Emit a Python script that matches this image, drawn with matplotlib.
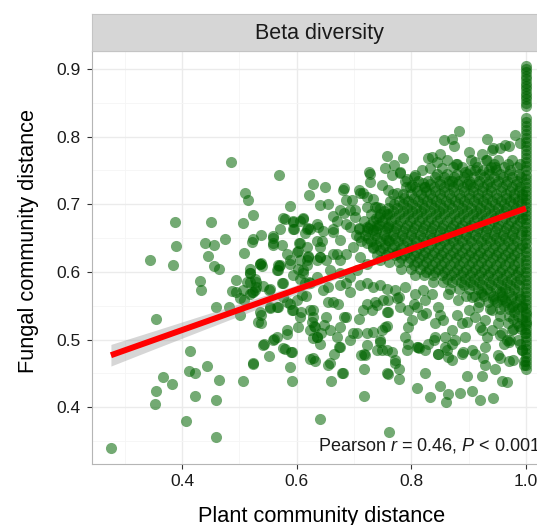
import numpy as np
import matplotlib
matplotlib.use('Agg')
import matplotlib.pyplot as plt

plt.rcParams['font.family'] = ['Liberation Sans', 'DejaVu Sans']
plt.rcParams['mathtext.fontset'] = 'custom'
plt.rcParams['mathtext.rm'] = 'Liberation Sans'
plt.rcParams['mathtext.it'] = 'Liberation Sans:italic'

# (plant distance, fungal distance) pairs, grouped by region
sparse_left = [
    (0.485, 0.762), (0.570, 0.744), (0.629, 0.730), (0.510, 0.717), (0.516, 0.707), (0.622, 0.713),
    (0.588, 0.697), (0.524, 0.684), (0.507, 0.673), (0.450, 0.674), (0.388, 0.674), (0.390, 0.638),
    (0.440, 0.643), (0.455, 0.640), (0.475, 0.649), (0.523, 0.644), (0.538, 0.654), (0.559, 0.650),
    (0.558, 0.643), (0.575, 0.640), (0.509, 0.628), (0.446, 0.624), (0.344, 0.617), (0.384, 0.610),
    (0.579, 0.678), (0.593, 0.674), (0.612, 0.678), (0.596, 0.663), (0.614, 0.658), (0.620, 0.665),
    (0.603, 0.631), (0.588, 0.617), (0.619, 0.623), (0.604, 0.643), (0.635, 0.646), (0.538, 0.613),
    (0.568, 0.610), (0.455, 0.608), (0.519, 0.604), (0.465, 0.605), (0.431, 0.586), (0.434, 0.573),
    (0.495, 0.588), (0.488, 0.572), (0.494, 0.571), (0.519, 0.599), (0.518, 0.585), (0.529, 0.585),
    (0.536, 0.611), (0.541, 0.579), (0.523, 0.571), (0.527, 0.573), (0.554, 0.575), (0.567, 0.603),
    (0.569, 0.608), (0.576, 0.584), (0.600, 0.630), (0.612, 0.603), (0.618, 0.617), (0.606, 0.590),
    (0.621, 0.585), (0.460, 0.548), (0.482, 0.548), (0.509, 0.558), (0.501, 0.537), (0.537, 0.537),
    (0.538, 0.524), (0.554, 0.548), (0.567, 0.548), (0.583, 0.556), (0.592, 0.543), (0.607, 0.540),
    (0.616, 0.565), (0.628, 0.543), (0.629, 0.534), (0.631, 0.520), (0.635, 0.504), (0.640, 0.494),
    (0.354, 0.530), (0.584, 0.508), (0.561, 0.501), (0.543, 0.493), (0.551, 0.476), (0.579, 0.486),
    (0.592, 0.481), (0.623, 0.471), (0.632, 0.468), (0.414, 0.483), (0.444, 0.461), (0.413, 0.454),
    (0.423, 0.450), (0.367, 0.444), (0.382, 0.434), (0.465, 0.440), (0.506, 0.439), (0.524, 0.464),
    (0.592, 0.438), (0.355, 0.424), (0.353, 0.404), (0.423, 0.417), (0.459, 0.411), (0.407, 0.380),
    (0.459, 0.356), (0.276, 0.340), (0.640, 0.383),
]

sparse_low = [
    (0.654, 0.462), (0.666, 0.479), (0.674, 0.489), (0.681, 0.451), (0.660, 0.439), (0.718, 0.478),
    (0.718, 0.457), (0.718, 0.416), (0.749, 0.484), (0.746, 0.497), (0.757, 0.450), (0.762, 0.364),
    (0.810, 0.429), (0.833, 0.415), (0.850, 0.431), (0.865, 0.419), (0.860, 0.407), (0.885, 0.421),
    (0.906, 0.424), (0.920, 0.411), (0.943, 0.414), (0.824, 0.450), (0.778, 0.441), (0.897, 0.446),
    (0.923, 0.446), (0.946, 0.457), (0.958, 0.439), (0.967, 0.437), (0.996, 0.462), (0.871, 0.470),
    (0.846, 0.478), (0.772, 0.470), (0.778, 0.457), (0.795, 0.493), (0.813, 0.488), (0.824, 0.484),
    (0.859, 0.489), (0.891, 0.481), (0.911, 0.479), (0.926, 0.472), (0.929, 0.462), (0.955, 0.472),
    (0.970, 0.469), (0.961, 0.494), (0.990, 0.494), (0.993, 0.484), (0.680, 0.450), (0.713, 0.477),
    (0.760, 0.449), (0.722, 0.492), (0.740, 0.484), (0.749, 0.514), (0.757, 0.520), (0.629, 0.502),
    (0.647, 0.521), (0.664, 0.556), (0.682, 0.534), (0.699, 0.509), (0.740, 0.551), (0.775, 0.561),
    (0.804, 0.553), (0.826, 0.539), (0.850, 0.536), (0.879, 0.536), (0.897, 0.526), (0.920, 0.519),
    (0.932, 0.504), (0.955, 0.507), (0.973, 0.499), (0.978, 0.470), (0.862, 0.484), (0.839, 0.499),
    (0.810, 0.489), (0.792, 0.484),
]

upper_fringe = [
    (0.884, 0.809), (0.857, 0.795), (0.871, 0.796), (0.874, 0.786), (0.932, 0.796), (0.901, 0.777),
    (0.981, 0.803), (0.943, 0.783), (0.955, 0.783), (0.971, 0.786), (0.757, 0.771), (0.786, 0.768),
    (0.754, 0.753), (0.770, 0.758), (0.766, 0.743), (0.781, 0.746), (0.830, 0.769), (0.850, 0.774),
    (0.845, 0.763), (0.832, 0.753), (0.853, 0.753), (0.862, 0.765), (0.878, 0.760), (0.894, 0.748),
    (0.911, 0.763), (0.923, 0.775), (0.932, 0.765), (0.727, 0.747), (0.728, 0.733), (0.749, 0.728),
    (0.711, 0.717), (0.682, 0.724), (0.650, 0.726), (0.641, 0.699), (0.655, 0.701), (0.664, 0.682),
    (0.682, 0.687), (0.696, 0.706), (0.702, 0.691), (0.722, 0.711), (0.737, 0.696), (0.760, 0.721),
    (0.775, 0.716), (0.792, 0.738), (0.804, 0.741), (0.818, 0.751), (0.798, 0.726), (0.821, 0.731),
    (0.780, 0.748), (0.789, 0.735), (0.807, 0.743), (0.801, 0.728), (0.911, 0.750), (0.941, 0.780),
    (0.964, 0.787), (0.990, 0.790), (0.935, 0.750), (0.946, 0.755), (0.903, 0.730), (0.871, 0.735),
    (0.842, 0.740), (0.824, 0.726), (0.836, 0.770), (0.880, 0.760),
]

mid_cloud = [
    (0.612, 0.679), (0.623, 0.664), (0.638, 0.667), (0.644, 0.645), (0.664, 0.659), (0.676, 0.647),
    (0.693, 0.667), (0.708, 0.652), (0.722, 0.642), (0.734, 0.662), (0.746, 0.632), (0.760, 0.647),
    (0.775, 0.627), (0.670, 0.627), (0.641, 0.622), (0.618, 0.637), (0.606, 0.617), (0.681, 0.721),
    (0.687, 0.706), (0.676, 0.691), (0.693, 0.691), (0.708, 0.721), (0.716, 0.716), (0.734, 0.708),
    (0.728, 0.745), (0.722, 0.696), (0.740, 0.696), (0.743, 0.681), (0.757, 0.686), (0.702, 0.681),
    (0.687, 0.671), (0.670, 0.676), (0.635, 0.671), (0.618, 0.664), (0.606, 0.676), (0.594, 0.676),
    (0.577, 0.679), (0.571, 0.664), (0.559, 0.653), (0.524, 0.649), (0.594, 0.664), (0.646, 0.661),
    (0.664, 0.664), (0.708, 0.664), (0.722, 0.666), (0.740, 0.669), (0.760, 0.666), (0.559, 0.640),
    (0.606, 0.642), (0.620, 0.622), (0.635, 0.617), (0.618, 0.610), (0.612, 0.598), (0.594, 0.595),
    (0.603, 0.605), (0.588, 0.612), (0.583, 0.627), (0.571, 0.610), (0.565, 0.603), (0.536, 0.612),
    (0.539, 0.608), (0.519, 0.598), (0.527, 0.590), (0.513, 0.585), (0.530, 0.578), (0.524, 0.571),
    (0.519, 0.568), (0.507, 0.573), (0.501, 0.561), (0.551, 0.573), (0.574, 0.583), (0.577, 0.563),
    (0.588, 0.553), (0.600, 0.558), (0.609, 0.566), (0.565, 0.548), (0.536, 0.541), (0.554, 0.546),
    (0.533, 0.526), (0.594, 0.543), (0.606, 0.534), (0.623, 0.543), (0.626, 0.526), (0.632, 0.519),
    (0.652, 0.534), (0.655, 0.556), (0.673, 0.553), (0.646, 0.573), (0.655, 0.578), (0.676, 0.580),
    (0.687, 0.583), (0.693, 0.571), (0.711, 0.580), (0.722, 0.583), (0.734, 0.578), (0.745, 0.580),
    (0.757, 0.575), (0.722, 0.553), (0.737, 0.556), (0.751, 0.558), (0.716, 0.543), (0.731, 0.543),
    (0.757, 0.541), (0.708, 0.531), (0.676, 0.519), (0.687, 0.534), (0.658, 0.514), (0.643, 0.509),
    (0.623, 0.514), (0.603, 0.519), (0.583, 0.514), (0.565, 0.504), (0.559, 0.499), (0.542, 0.492),
    (0.577, 0.487), (0.591, 0.482), (0.635, 0.504), (0.670, 0.504), (0.676, 0.489), (0.693, 0.499),
    (0.705, 0.509), (0.722, 0.509), (0.734, 0.511), (0.745, 0.499), (0.757, 0.484), (0.719, 0.477),
    (0.658, 0.465), (0.629, 0.472), (0.524, 0.465), (0.588, 0.460), (0.641, 0.637), (0.664, 0.627),
    (0.676, 0.617), (0.687, 0.627), (0.699, 0.637), (0.711, 0.622), (0.734, 0.637), (0.745, 0.617),
    (0.722, 0.612), (0.705, 0.603), (0.693, 0.593), (0.676, 0.598), (0.658, 0.603), (0.641, 0.622),
    (0.652, 0.617), (0.635, 0.593), (0.623, 0.583), (0.615, 0.583),
]

lower_right = [
    (0.760, 0.541), (0.778, 0.563), (0.781, 0.548), (0.795, 0.543), (0.801, 0.529), (0.810, 0.548),
    (0.818, 0.536), (0.824, 0.558), (0.836, 0.568), (0.842, 0.524), (0.847, 0.548), (0.856, 0.529),
    (0.859, 0.504), (0.871, 0.514), (0.876, 0.499), (0.888, 0.524), (0.894, 0.504), (0.900, 0.543),
    (0.911, 0.534), (0.917, 0.548), (0.929, 0.529), (0.941, 0.543), (0.941, 0.514), (0.952, 0.524),
    (0.958, 0.509), (0.967, 0.499), (0.975, 0.514), (0.987, 0.499), (0.999, 0.509), (1.000, 0.524),
    (1.000, 0.538), (0.993, 0.548), (0.975, 0.548), (0.964, 0.558), (0.789, 0.504), (0.812, 0.489),
    (0.830, 0.494), (0.847, 0.479), (0.865, 0.474), (0.888, 0.479), (0.906, 0.484), (0.929, 0.489),
    (0.952, 0.477), (0.970, 0.497), (0.993, 0.484), (0.996, 0.469), (0.766, 0.482), (0.772, 0.465),
    (0.871, 0.494), (0.923, 0.514), (0.842, 0.504), (0.795, 0.519), (0.754, 0.519), (0.760, 0.558),
    (0.772, 0.573), (0.789, 0.578), (0.807, 0.568), (0.821, 0.573), (0.865, 0.568), (0.882, 0.558),
    (0.906, 0.563), (0.923, 0.568), (0.946, 0.558), (0.958, 0.571),
]

# dense core: fungal distance -> plant distances of the overlapping points
dense_rows = {
    0.765: [0.905, 0.930, 0.952, 0.975],
    0.760: [0.944, 0.968, 0.990],
    0.755: [0.872, 0.888, 0.915, 0.940, 0.962, 0.985],
    0.750: [0.902, 0.926, 0.948, 0.972],
    0.745: [0.845, 0.862, 0.880, 0.897, 0.920, 0.935, 0.955, 0.970, 0.988],
    0.740: [0.858, 0.875, 0.892, 0.909, 0.927, 0.944, 0.960, 0.976, 0.992],
    0.735: [0.812, 0.830, 0.848, 0.866, 0.884, 0.900, 0.918, 0.936, 0.951, 0.967, 0.984],
    0.730: [0.832, 0.850, 0.866, 0.882, 0.898, 0.916, 0.932, 0.948, 0.966, 0.982],
    0.725: [0.790, 0.806, 0.822, 0.840, 0.857, 0.873, 0.891, 0.907, 0.925, 0.940, 0.958, 0.975, 0.990],
    0.720: [0.810, 0.826, 0.842, 0.858, 0.875, 0.892, 0.908, 0.924, 0.940, 0.956, 0.972, 0.988],
    0.715: [0.768, 0.785, 0.800, 0.817, 0.833, 0.851, 0.866, 0.883, 0.900, 0.916, 0.932, 0.948, 0.965,
            0.980, 0.993],
    0.710: [0.788, 0.804, 0.820, 0.836, 0.852, 0.869, 0.885, 0.901, 0.917, 0.933, 0.949, 0.965, 0.980,
            0.994],
    0.705: [0.763, 0.779, 0.795, 0.812, 0.828, 0.843, 0.861, 0.877, 0.892, 0.910, 0.925, 0.941, 0.957,
            0.972, 0.987],
    0.700: [0.770, 0.786, 0.802, 0.818, 0.834, 0.850, 0.866, 0.882, 0.898, 0.914, 0.930, 0.946, 0.962,
            0.978, 0.992],
    0.695: [0.745, 0.760, 0.776, 0.792, 0.808, 0.823, 0.840, 0.856, 0.871, 0.888, 0.904, 0.920, 0.935,
            0.951, 0.966, 0.982],
    0.690: [0.753, 0.769, 0.785, 0.801, 0.817, 0.833, 0.849, 0.865, 0.881, 0.897, 0.913, 0.929, 0.945,
            0.961, 0.977, 0.993],
    0.685: [0.730, 0.746, 0.762, 0.778, 0.794, 0.810, 0.826, 0.843, 0.858, 0.875, 0.890, 0.907, 0.922,
            0.939, 0.954, 0.970, 0.986],
    0.680: [0.739, 0.755, 0.771, 0.787, 0.803, 0.819, 0.835, 0.851, 0.867, 0.883, 0.899, 0.915, 0.931,
            0.947, 0.963, 0.979, 0.994],
    0.675: [0.717, 0.733, 0.749, 0.765, 0.781, 0.797, 0.813, 0.830, 0.845, 0.862, 0.878, 0.894, 0.910,
            0.926, 0.942, 0.958, 0.974, 0.990],
    0.670: [0.728, 0.744, 0.760, 0.776, 0.792, 0.808, 0.824, 0.840, 0.856, 0.872, 0.888, 0.904, 0.920,
            0.936, 0.952, 0.968, 0.984],
    0.665: [0.709, 0.725, 0.741, 0.757, 0.773, 0.789, 0.805, 0.821, 0.837, 0.853, 0.869, 0.885, 0.901,
            0.917, 0.933, 0.949, 0.965, 0.981],
    0.660: [0.722, 0.738, 0.754, 0.770, 0.786, 0.802, 0.818, 0.834, 0.850, 0.866, 0.882, 0.898, 0.914,
            0.930, 0.946, 0.962, 0.978, 0.993],
    0.655: [0.703, 0.720, 0.736, 0.752, 0.768, 0.784, 0.800, 0.816, 0.832, 0.848, 0.864, 0.880, 0.896,
            0.912, 0.928, 0.944, 0.960, 0.976, 0.992],
    0.650: [0.724, 0.740, 0.756, 0.772, 0.788, 0.804, 0.820, 0.836, 0.852, 0.868, 0.884, 0.900, 0.916,
            0.932, 0.948, 0.964, 0.980],
    0.645: [0.713, 0.729, 0.745, 0.761, 0.777, 0.793, 0.809, 0.825, 0.841, 0.857, 0.873, 0.889, 0.905,
            0.921, 0.937, 0.953, 0.969, 0.985],
    0.640: [0.738, 0.754, 0.770, 0.786, 0.802, 0.818, 0.834, 0.850, 0.866, 0.882, 0.898, 0.914, 0.930,
            0.946, 0.962, 0.978, 0.993],
    0.635: [0.734, 0.750, 0.766, 0.782, 0.798, 0.814, 0.830, 0.846, 0.862, 0.878, 0.894, 0.910, 0.926,
            0.942, 0.958, 0.974, 0.990],
    0.630: [0.760, 0.776, 0.792, 0.808, 0.824, 0.840, 0.856, 0.872, 0.888, 0.904, 0.920, 0.936, 0.952,
            0.968, 0.984],
    0.625: [0.740, 0.756, 0.772, 0.788, 0.804, 0.820, 0.836, 0.852, 0.868, 0.884, 0.900, 0.916, 0.932,
            0.948, 0.964, 0.980],
    0.620: [0.782, 0.798, 0.814, 0.830, 0.846, 0.862, 0.878, 0.894, 0.910, 0.926, 0.942, 0.958, 0.974,
            0.990],
    0.615: [0.762, 0.778, 0.794, 0.810, 0.826, 0.842, 0.858, 0.874, 0.890, 0.906, 0.922, 0.938, 0.954,
            0.970, 0.986],
    0.610: [0.804, 0.820, 0.836, 0.852, 0.868, 0.884, 0.900, 0.916, 0.932, 0.948, 0.964, 0.980],
    0.605: [0.783, 0.799, 0.815, 0.831, 0.847, 0.863, 0.879, 0.895, 0.911, 0.927, 0.943, 0.959, 0.975,
            0.990],
    0.600: [0.826, 0.842, 0.858, 0.874, 0.890, 0.906, 0.922, 0.938, 0.954, 0.970, 0.986],
    0.595: [0.806, 0.822, 0.838, 0.854, 0.870, 0.886, 0.902, 0.918, 0.934, 0.950, 0.966, 0.982],
    0.590: [0.862, 0.878, 0.894, 0.910, 0.926, 0.942, 0.958, 0.974, 0.990],
    0.585: [0.838, 0.855, 0.871, 0.887, 0.903, 0.919, 0.935, 0.951, 0.967, 0.983],
    0.580: [0.892, 0.908, 0.924, 0.940, 0.956, 0.972, 0.988],
    0.575: [0.868, 0.884, 0.900, 0.916, 0.932, 0.948, 0.964, 0.980],
    0.570: [0.922, 0.938, 0.954, 0.970, 0.986],
    0.565: [0.895, 0.911, 0.927, 0.943, 0.959, 0.975, 0.990],
    0.560: [0.942, 0.958, 0.974, 0.990],
    0.555: [0.918, 0.934, 0.950, 0.966, 0.982],
    0.550: [0.962, 0.978, 0.993],
    0.545: [0.938, 0.954, 0.970, 0.986],
    0.540: [0.980],
    0.535: [0.955, 0.971, 0.987],
    0.530: [0.978, 0.993],
    0.525: [0.968, 0.984],
    0.520: [0.988],
    0.515: [0.978, 0.992],
}

# stack of points sitting at plant distance 1.0
column_x = 1.0
column_y = [0.905, 0.900, 0.895, 0.890, 0.885, 0.880, 0.875, 0.870, 0.865, 0.860, 0.855, 0.850, 0.845,
            0.828, 0.822, 0.816, 0.810, 0.804, 0.798, 0.792, 0.786, 0.780, 0.774, 0.768, 0.762, 0.756,
            0.750, 0.744, 0.738, 0.732, 0.726, 0.720, 0.714, 0.708, 0.702, 0.696, 0.690, 0.684, 0.678,
            0.672, 0.666, 0.660, 0.654, 0.648, 0.642, 0.636, 0.630, 0.624, 0.618, 0.612, 0.606, 0.600,
            0.594, 0.588, 0.582, 0.576, 0.570, 0.564, 0.558, 0.552, 0.546, 0.540, 0.534, 0.528, 0.522,
            0.516, 0.510, 0.504, 0.498, 0.492, 0.486, 0.480, 0.474, 0.468, 0.462, 0.456]

fit_intercept, fit_slope = 0.394, 0.300
line_x = np.array([0.276, 1.0])
band_x = np.array([0.276, 0.35, 0.45, 0.55, 0.65, 0.75, 0.85, 0.93, 1.0])
band_half = np.array([0.016, 0.0135, 0.0105, 0.0078, 0.0055, 0.0038, 0.0030, 0.0035, 0.0048])

x_ticks = [0.4, 0.6, 0.8, 1.0]
y_ticks = [0.4, 0.5, 0.6, 0.7, 0.8, 0.9]

pairs = sparse_left + sparse_low + upper_fringe + mid_cloud + lower_right
pairs += [(px, yy) for yy, xs in dense_rows.items() for px in xs]
pairs += [(column_x, yy) for yy in column_y]
pts = np.array(pairs)

W, H = 537, 525
fig = plt.figure(figsize=(W / 100, H / 100), dpi=100)
ax = fig.add_axes([92 / W, 61 / H, 454.5 / W, 413 / H])
ax.set_xlim(0.243, 1.036)
ax.set_ylim(0.316, 0.9266)

ax.set_xticks(x_ticks)
ax.set_xticklabels([f'{v:.1f}' for v in x_ticks])
ax.set_yticks(y_ticks)
ax.set_yticklabels([f'{v:.1f}' for v in y_ticks])
ax.set_xticks([0.3, 0.5, 0.7, 0.9], minor=True)
ax.set_yticks([0.35, 0.45, 0.55, 0.65, 0.75, 0.85], minor=True)
ax.grid(which='major', color='#EBEBEB', lw=1.0)
ax.grid(which='minor', color='#F5F5F5', lw=0.6)
ax.set_axisbelow(True)
ax.tick_params(which='minor', length=0)
ax.tick_params(axis='x', which='major', length=3.5, width=0.8, color='#333333', labelsize=12.5,
               labelcolor='#1A1A1A', pad=4)
ax.tick_params(axis='y', which='major', length=3.5, width=0.8, color='#333333', labelsize=12.5,
               labelcolor='#1A1A1A', pad=4.5)
for s in ax.spines.values():
    s.set_color('#B5B5B5')
    s.set_linewidth(0.8)

ax.scatter(pts[:, 0], pts[:, 1], s=64, c='#006400', alpha=0.55, linewidths=0, zorder=2)
bc = fit_intercept + fit_slope * band_x
ax.fill_between(band_x, bc - band_half, bc + band_half, color='#999999', alpha=0.4, lw=0, zorder=3)
ax.plot(line_x, fit_intercept + fit_slope * line_x, color='#FF0000', lw=4.3,
        solid_capstyle='butt', zorder=4)

ax.text(0.637, 0.3364, r'Pearson $r$ = 0.46, $P$ < 0.001', fontsize=13, ha='left',
        va='baseline', color='#1A1A1A', zorder=5)

ax.set_xlabel('Plant community distance', fontsize=15.7, color='#000000')
ax.xaxis.set_label_coords(0.506, -0.102)
ax.set_ylabel('Fungal community distance', fontsize=15.7, color='#000000')
ax.yaxis.set_label_coords(-0.116, 0.54)

# facet strip
sax = fig.add_axes([92 / W, (H - 50.5) / H, 454.5 / W, 36 / H])
sax.set_facecolor('#D6D6D6')
sax.set_xticks([])
sax.set_yticks([])
for s in sax.spines.values():
    s.set_color('#C4C4C4')
    s.set_linewidth(0.8)
sax.text(0.5, 0.47, 'Beta diversity', ha='center', va='center', fontsize=15.5,
         color='#1A1A1A', transform=sax.transAxes)

fig.savefig('out.png', dpi=100)
